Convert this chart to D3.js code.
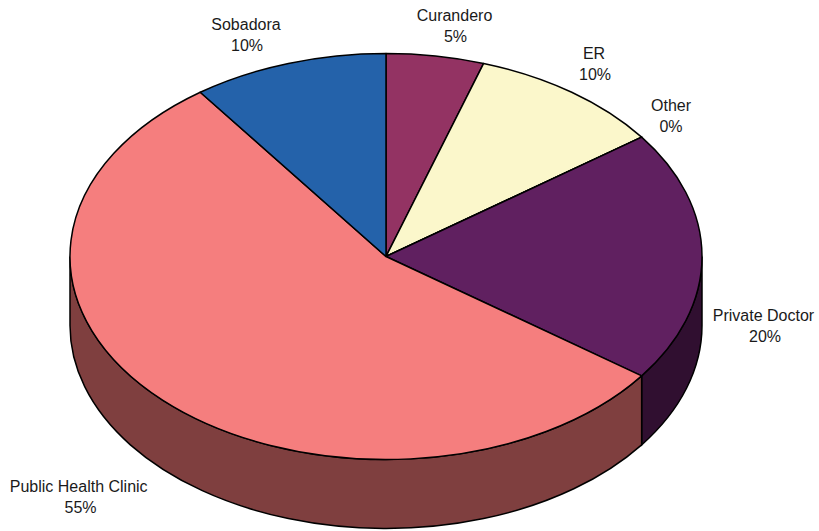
<!DOCTYPE html>
<html><head><meta charset="utf-8">
<script src="https://cdn.jsdelivr.net/npm/d3@7/dist/d3.min.js"></script>
<style>html,body{margin:0;padding:0;background:#fff}svg{display:block}text{font-family:"Liberation Sans",Arial,sans-serif;font-size:16px;fill:#1a1a1a}</style>
</head><body><script>
const categories=["Curandero","ER","Other","Private Doctor","Public Health Clinic","Sobadora"];
const labelShown=["5%","10%","0%","20%","55%","10%"];
const values=[5,10,0,20,55,10];
const topColors=["#933363","#fbf7cb","#fbf7cb","#602060","#f57e7e","#2462aa"];
const sideColors=["#4a1a32","#7e7c66","#7e7c66","#300f30","#7f3f3f","#123357"];
const labelX=[454.5,594,671,763.5,78.7,246];
const percentX=[455.5,595,671,765,80.5,247];
const labelY=[21,58.5,111,321,492,29.5];

const W=819,H=531,cx=386,cy=256.5,rx=316,ry=203,depth=69;
const svg=d3.select("body").append("svg").attr("width",W).attr("height",H);
const pie=d3.pie().value(d=>d).sort(null)(values);
const px=a=>cx+rx*Math.sin(a), py=a=>cy-ry*Math.cos(a);

// side walls: only the front half of the ellipse (90deg..270deg) is visible
const sides=svg.append("g");
pie.forEach((s,i)=>{
  const a0=Math.max(s.startAngle,Math.PI/2), a1=Math.min(s.endAngle,Math.PI*1.5);
  if(a1<=a0) return;
  const y0=py(a0)+depth,y1=py(a1)+depth;
  const large=(a1-a0)>Math.PI?1:0;
  const d=`M${px(a0)},${py(a0)}L${px(a0)},${y0}A${rx},${ry} 0 ${large} 1 ${px(a1)},${y1}L${px(a1)},${py(a1)}A${rx},${ry} 0 ${large} 0 ${px(a0)},${py(a0)}Z`;
  sides.append("path").attr("d",d).attr("fill",sideColors[i]).attr("stroke","#000").attr("stroke-width",1.5);
});

// top surface through d3.arc, flattened to the ellipse
const arc=d3.arc().innerRadius(0).outerRadius(rx);
svg.append("g").attr("transform",`translate(${cx},${cy}) scale(1,${ry/rx})`)
 .selectAll("path").data(pie).join("path")
 .attr("d",arc).attr("fill",(d,i)=>topColors[i])
 .attr("stroke","#000").attr("stroke-width",1.5).attr("vector-effect","non-scaling-stroke")
 .attr("stroke-linejoin","round");

const labels=svg.append("g").attr("text-anchor","middle");
categories.forEach((c,i)=>{
  const t=labels.append("text").attr("x",labelX[i]).attr("y",labelY[i]);
  t.append("tspan").attr("x",labelX[i]).text(c);
  t.append("tspan").attr("x",percentX[i]).attr("dy",21).text(labelShown[i]);
});
</script></body></html>
